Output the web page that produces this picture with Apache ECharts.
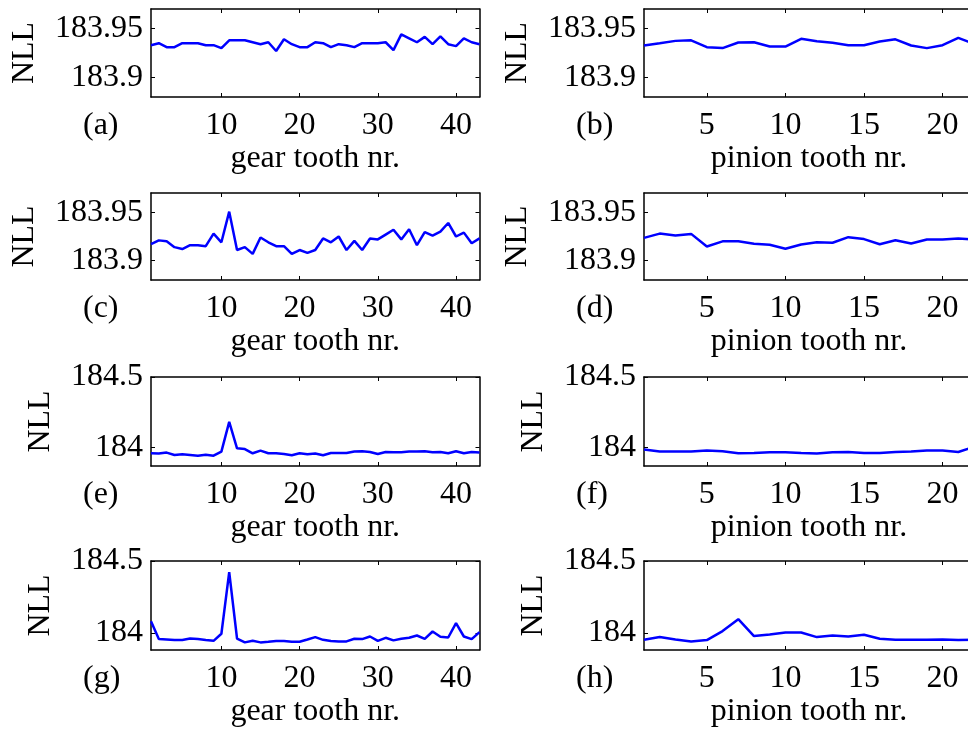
<!DOCTYPE html>
<html>
<head>
<meta charset="utf-8">
<title>NLL per tooth</title>
<script src="https://cdn.jsdelivr.net/npm/echarts@6/dist/echarts.min.js"></script>
<style>
html, body { margin: 0; padding: 0; background: #fff; overflow: hidden; }
/* the figure is cropped on the right, so the canvas is a bit wider than the window */
#chart { width: 976px; height: 729px; }
</style>
</head>
<body>
<div id="chart"></div>
<script>
// NLL per gear tooth (43 teeth) and per pinion tooth (22 teeth)
const nllA = [183.933, 183.935, 183.931, 183.931, 183.935, 183.935, 183.935, 183.933, 183.933, 183.930,
	183.938, 183.938, 183.938, 183.936, 183.934, 183.936, 183.927, 183.939, 183.934, 183.931,
	183.931, 183.936, 183.935, 183.931, 183.934, 183.933, 183.931, 183.935, 183.935, 183.935,
	183.936, 183.928, 183.944, 183.940, 183.936, 183.9415, 183.934, 183.942, 183.934, 183.932,
	183.940, 183.936, 183.934]
const nllB = [183.9327, 183.935, 183.9374, 183.938, 183.931, 183.930, 183.9357, 183.936, 183.9316, 183.9316,
	183.9395, 183.937, 183.9354, 183.933, 183.933, 183.9367, 183.939, 183.9327, 183.930, 183.933,
	183.9405, 183.9344]
const nllC = [183.917, 183.921, 183.920, 183.914, 183.912, 183.916, 183.916, 183.915, 183.928, 183.919,
	183.9507, 183.911, 183.914, 183.907, 183.924, 183.919, 183.915, 183.915, 183.907, 183.911,
	183.908, 183.911, 183.923, 183.919, 183.925, 183.911, 183.9205, 183.911, 183.923, 183.922,
	183.927, 183.932, 183.922, 183.9325, 183.916, 183.9295, 183.926, 183.930, 183.939, 183.925,
	183.929, 183.918, 183.923]
const nllD = [183.9236, 183.928, 183.926, 183.9277, 183.9147, 183.920, 183.920, 183.9175, 183.9164, 183.9123,
	183.9168, 183.919, 183.9185, 183.9243, 183.9223, 183.917, 183.9212, 183.9178, 183.9219, 183.9219,
	183.923, 183.922]
const nllE = [183.960, 183.958, 183.965, 183.948, 183.953, 183.948, 183.943, 183.950, 183.943, 183.972,
	184.182, 183.995, 183.990, 183.960, 183.979, 183.960, 183.960, 183.955, 183.946, 183.960,
	183.953, 183.958, 183.946, 183.962, 183.962, 183.962, 183.972, 183.974, 183.969, 183.955,
	183.969, 183.967, 183.967, 183.972, 183.972, 183.974, 183.967, 183.969, 183.960, 183.974,
	183.960, 183.969, 183.965]
const nllF = [183.986, 183.972, 183.972, 183.972, 183.979, 183.974, 183.960, 183.962, 183.967, 183.967,
	183.962, 183.958, 183.967, 183.969, 183.962, 183.962, 183.969, 183.972, 183.979, 183.979,
	183.969, 184.005]
const nllG = [184.081, 183.956, 183.953, 183.949, 183.949, 183.960, 183.956, 183.949, 183.944, 183.993,
	184.423, 183.960, 183.933, 183.944, 183.933, 183.937, 183.942, 183.942, 183.937, 183.937,
	183.953, 183.970, 183.951, 183.942, 183.940, 183.940, 183.958, 183.956, 183.974, 183.944,
	183.965, 183.947, 183.958, 183.965, 183.981, 183.958, 184.009, 183.972, 183.967, 184.067,
	183.974, 183.956, 184.005]
const nllH = [183.951, 183.970, 183.953, 183.940, 183.949, 184.012, 184.095, 183.977, 183.988, 184.002,
	184.002, 183.970, 183.981, 183.974, 183.986, 183.958, 183.951, 183.951, 183.951, 183.953,
	183.949, 183.951]

const gearTicks = [10, 20, 30, 40]
const pinionTicks = [5, 10, 15, 20]
const yTicksFine = [183.9, 183.95]
const yTicksCoarse = [184, 184.5]
const panelNames = ["(a)", "(b)", "(c)", "(d)", "(e)", "(f)", "(g)", "(h)"]

const font = "Liberation Serif"
const fontSize = 32

// layout of the 4x2 subplot grid, in px
const rowTop = [9, 193, 377, 561]
const rowHeight = [88, 87, 89, 89]
const colLeft = [151, 644]
const colWidth = [328.5, 330]
const yRange = [
	[183.88, 183.97],
	[183.88, 183.97],
	[183.87, 184.5],
	[183.88, 184.5]
]

const panels = [nllA, nllB, nllC, nllD, nllE, nllF, nllG, nllH]

const grid = []
const xAxis = []
const yAxis = []
const series = []
const graphic = []

panels.forEach((vals, i) => {
	const row = Math.floor(i / 2)
	const col = i % 2
	const isGear = col === 0
	const xTicks = isGear ? gearTicks : pinionTicks
	const yTicks = row < 2 ? yTicksFine : yTicksCoarse

	grid.push({
		left: colLeft[col],
		top: rowTop[row],
		width: colWidth[col],
		height: rowHeight[row]
	})

	const axisLine = { show: true, lineStyle: { color: "#000", width: 1.5 } }
	const tickStyle = { color: "#000", width: 1 }

	// bottom x axis (with labels)
	xAxis.push({
		type: "value",
		gridIndex: i,
		min: 1,
		max: vals.length,
		position: "bottom",
		name: isGear ? "gear tooth nr." : "pinion tooth nr.",
		nameLocation: "middle",
		nameGap: 44,
		nameTextStyle: { fontFamily: font, fontSize: fontSize, color: "#000" },
		axisLine,
		axisTick: { show: true, inside: true, length: 4, customValues: xTicks, lineStyle: tickStyle },
		axisLabel: {
			customValues: xTicks,
			margin: 13,
			fontFamily: font,
			fontSize: fontSize,
			color: "#000"
		},
		splitLine: { show: false }
	})
	// top x axis, mirrored ticks only
	xAxis.push({
		type: "value",
		gridIndex: i,
		min: 1,
		max: vals.length,
		position: "top",
		axisLine,
		axisTick: { show: true, inside: true, length: 4, customValues: xTicks, lineStyle: tickStyle },
		axisLabel: { show: false },
		splitLine: { show: false }
	})

	// left y axis (with labels)
	yAxis.push({
		type: "value",
		gridIndex: i,
		min: yRange[row][0],
		max: yRange[row][1],
		position: "left",
		name: "NLL",
		nameLocation: "middle",
		nameRotate: 90,
		nameGap: row < 2 ? 110 : 94,
		nameTextStyle: { fontFamily: font, fontSize: fontSize, color: "#000" },
		axisLine,
		axisTick: { show: true, inside: true, length: 4, customValues: yTicks, lineStyle: tickStyle },
		axisLabel: {
			customValues: yTicks,
			margin: 8,
			fontFamily: font,
			fontSize: fontSize,
			color: "#000",
			formatter: v => String(v)
		},
		splitLine: { show: false }
	})
	// right y axis, mirrored ticks only
	yAxis.push({
		type: "value",
		gridIndex: i,
		min: yRange[row][0],
		max: yRange[row][1],
		position: "right",
		axisLine,
		axisTick: { show: true, inside: true, length: 4, customValues: yTicks, lineStyle: tickStyle },
		axisLabel: { show: false },
		splitLine: { show: false }
	})

	series.push({
		type: "line",
		xAxisIndex: i * 2,
		yAxisIndex: i * 2,
		data: vals.map((v, k) => [k + 1, v]),
		showSymbol: false,
		symbol: "none",
		lineStyle: { color: "#0000ff", width: 2.5 },
		itemStyle: { color: "#0000ff" },
		animation: false
	})

	// panel letter under the y axis
	graphic.push({
		type: "text",
		left: colLeft[col] - 68,
		top: rowTop[row] + rowHeight[row] + 13,
		style: {
			text: panelNames[i],
			font: fontSize + "px '" + font + "'",
			fill: "#000"
		}
	})
})

const chart = echarts.init(document.getElementById("chart"), null, { renderer: "canvas" })
chart.setOption({
	animation: false,
	backgroundColor: "#fff",
	grid,
	xAxis,
	yAxis,
	series,
	graphic
})

window.addEventListener("resize", () => chart.resize())
</script>
</body>
</html>
